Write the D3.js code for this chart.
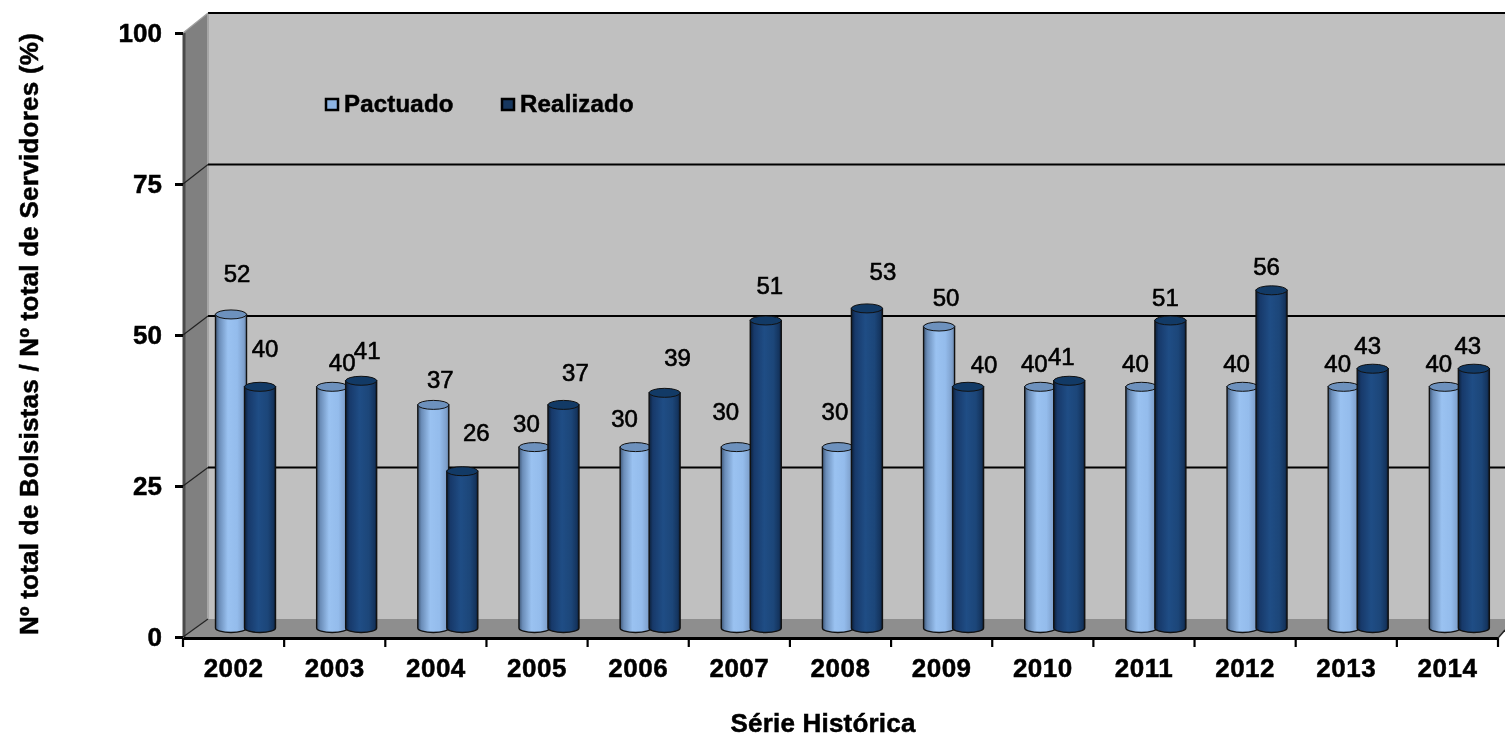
<!DOCTYPE html>
<html>
<head>
<meta charset="utf-8">
<script src="https://cdn.jsdelivr.net/npm/d3@7"></script>
<style>
  html, body { margin: 0; padding: 0; background: #fff; overflow: hidden; }
  svg { display: block; font-family: "Liberation Sans", Arial, sans-serif; filter: blur(0.45px); }
</style>
</head>
<body>
<svg id="chart" width="1505" height="737"></svg>
<script>
const years = ["2002", "2003", "2004", "2005", "2006", "2007", "2008", "2009", "2010", "2011", "2012", "2013", "2014"];
const pactuado = [52, 40, 37, 30, 30, 30, 30, 50, 40, 40, 40, 40, 40];
const realizado = [40, 41, 26, 37, 39, 51, 53, 40, 41, 51, 56, 43, 43];
const yTicks = [0, 25, 50, 75, 100];

// hand placed label nudges from the bar top, [dx, dy] per year
const pactuadoNudge = [[6, -41], [10, -25], [7, -26], [-8, -24], [-11, -29], [-11, -36], [-3, -36], [7, -30], [-6, -24], [-6, -24], [-6, -24], [-6, -24], [-6, -24]];
const realizadoNudge = [[5, -39], [6, -31], [14, -39], [12, -33], [13, -36], [4, -35], [16, -37], [16, -23], [-8, -25], [-5, -23], [-5, -24], [-5, -24], [-6, -24]];

const svg = d3.select("#chart");
const defs = svg.append("defs");

const cylGradient = (id, stops) => {
  const g = defs.append("linearGradient").attr("id", id);
  stops.forEach(([o, c]) => g.append("stop").attr("offset", o).attr("stop-color", c));
};
cylGradient("lightCyl", [[0, "#3f5878"], [0.12, "#6b8db8"], [0.4, "#9ac2f1"], [0.7, "#94bcec"], [0.92, "#7ea0cc"], [1, "#5f7a9c"]]);
cylGradient("darkCyl", [[0, "#0c1f38"], [0.12, "#17396a"], [0.45, "#1f4d85"], [0.75, "#1c4679"], [0.93, "#14345e"], [1, "#0a1a30"]]);

// scales: front plane for the axes, back plane for the gridlines, bar plane for cylinders
const x = d3.scaleBand().domain(years).range([183, 1498]);
const yFront = d3.scaleLinear().domain([0, 100]).range([637, 33]);
const yBack = d3.scaleLinear().domain([0, 100]).range([619, 13]);
const yBar = d3.scaleLinear().domain([0, 100]).range([628, 25]);

const depthX = 25;
const barW = 31;

// walls
svg.append("rect").attr("x", 183 + depthX).attr("y", yBack(100)).attr("width", 1505 - 183 - depthX).attr("height", yBack(0) - yBack(100)).attr("fill", "#c0c0c0");
svg.append("polygon")
  .attr("points", [[183, yFront(100)], [183 + depthX, yBack(100)], [183 + depthX, yBack(0)], [183, yFront(0)]].join(" "))
  .attr("fill", "#808080");
svg.append("polygon")
  .attr("points", [[183, yFront(0)], [183 + depthX, yBack(0)], [1505, yBack(0)], [1505, 630], [1498, yFront(0)]].join(" "))
  .attr("fill", "#8e8e8e");
svg.append("line").attr("x1", 184).attr("x2", 184).attr("y1", yFront(100)).attr("y2", yFront(0)).attr("stroke", "#4a4a4a").attr("stroke-width", 3);
svg.append("line").attr("x1", 183 + depthX).attr("x2", 183 + depthX).attr("y1", yBack(100)).attr("y2", yBack(0)).attr("stroke", "#a6a6a6").attr("stroke-width", 2);

// gridlines
svg.selectAll(".grid").data(yTicks.slice(1)).enter().append("line")
  .attr("class", "grid")
  .attr("x1", 183 + depthX).attr("x2", 1505)
  .attr("y1", (d) => yBack(d)).attr("y2", (d) => yBack(d))
  .attr("stroke", "#000").attr("stroke-width", 2.2);
svg.selectAll(".diag").data(yTicks).enter().append("line")
  .attr("class", "diag")
  .attr("x1", 183).attr("x2", 183 + depthX)
  .attr("y1", (d) => yFront(d)).attr("y2", (d) => yBack(d))
  .attr("stroke", (d) => (d === 100 ? "#a0a0a0" : "#222")).attr("stroke-width", 1.2);

// axes
const boldText = (sel, size, spacing) => sel
  .attr("font-size", size).attr("font-weight", "bold").attr("font-family", "Liberation Sans")
  .attr("fill", "#000").attr("stroke", "#000").attr("stroke-width", 0.5).attr("letter-spacing", spacing);

const yAxis = svg.append("g").attr("transform", "translate(183,0)")
  .call(d3.axisLeft(yFront).tickValues(yTicks).tickSize(8).tickPadding(13));
yAxis.select(".domain").remove();
yAxis.selectAll("line").attr("stroke", "#000").attr("stroke-width", 3);
boldText(yAxis.selectAll("text"), 26, 0);

const xAxis = svg.append("g").attr("transform", "translate(0,638)")
  .call(d3.axisBottom(x).tickSize(0).tickPadding(21));
xAxis.select(".domain").attr("stroke", "#000").attr("stroke-width", 3);
boldText(xAxis.selectAll("text"), 26, 0.5);
svg.selectAll(".xtick").data(years.concat("end")).enter().append("line")
  .attr("class", "xtick")
  .attr("x1", (d, i) => x.range()[0] + i * x.step()).attr("x2", (d, i) => x.range()[0] + i * x.step())
  .attr("y1", 638).attr("y2", 647)
  .attr("stroke", "#000").attr("stroke-width", 2.2);
svg.append("line").attr("x1", 1498).attr("y1", 638).attr("x2", 1505).attr("y2", 630).attr("stroke", "#222").attr("stroke-width", 1.5);

// cylinders
const drawSeries = (values, nudge, name, dx, fill, topFill) => {
  const g = svg.append("g").attr("class", name);
  const cx = (d, i) => x(years[i]) + dx;
  g.selectAll("path.body").data(values).enter().append("path")
    .attr("class", "body")
    .attr("d", (d, i) => {
      const l = cx(d, i) - barW / 2;
      return `M${l},${yBar(d)}L${l},${yBar(0)}A${barW / 2},4.5 0 0 0 ${l + barW},${yBar(0)}L${l + barW},${yBar(d)}Z`;
    })
    .attr("fill", `url(#${fill})`)
    .attr("stroke", "#111").attr("stroke-width", 1.4);
  g.selectAll("ellipse").data(values).enter().append("ellipse")
    .attr("cx", cx)
    .attr("cy", (d) => yBar(d))
    .attr("rx", barW / 2).attr("ry", 4.5)
    .attr("fill", topFill)
    .attr("stroke", "#111").attr("stroke-width", 1);
  return (sel) => sel.data(values).enter().append("text")
    .attr("x", (d, i) => cx(d, i) + nudge[i][0])
    .attr("y", (d, i) => yBar(d) + nudge[i][1] + 9)
    .attr("text-anchor", "middle")
    .attr("font-size", 24)
    .attr("fill", "#000")
    .attr("stroke", "#000").attr("stroke-width", 0.6)
    .text((d) => d);
};
const labelPactuado = drawSeries(pactuado, pactuadoNudge, "pactuado", 48, "lightCyl", "#6d91bd");
const labelRealizado = drawSeries(realizado, realizadoNudge, "realizado", 77, "darkCyl", "#123a66");
labelPactuado(svg.append("g").selectAll("text"));
labelRealizado(svg.append("g").selectAll("text"));

// legend
const legendItems = [["Pactuado", "#8db4e3", 325], ["Realizado", "#17375e", 501]];
legendItems.forEach(([label, color, lx]) => {
  svg.append("rect").attr("x", lx + 1).attr("y", 99).attr("width", 12).attr("height", 11).attr("fill", color).attr("stroke", "#000").attr("stroke-width", 2.5);
  svg.append("text").attr("x", lx + 19).attr("y", 112).call(boldText, 24, 0.2).text(label);
});

// axis titles
svg.append("text").attr("x", 823).attr("y", 732).attr("text-anchor", "middle")
  .call(boldText, 26, 0.2).text("Série Histórica");
svg.append("text").attr("transform", "translate(38,334) rotate(-90)").attr("text-anchor", "middle")
  .call(boldText, 26, 0.25).text("Nº total de Bolsistas / Nº total de Servidores (%)");
</script>
</body>
</html>
